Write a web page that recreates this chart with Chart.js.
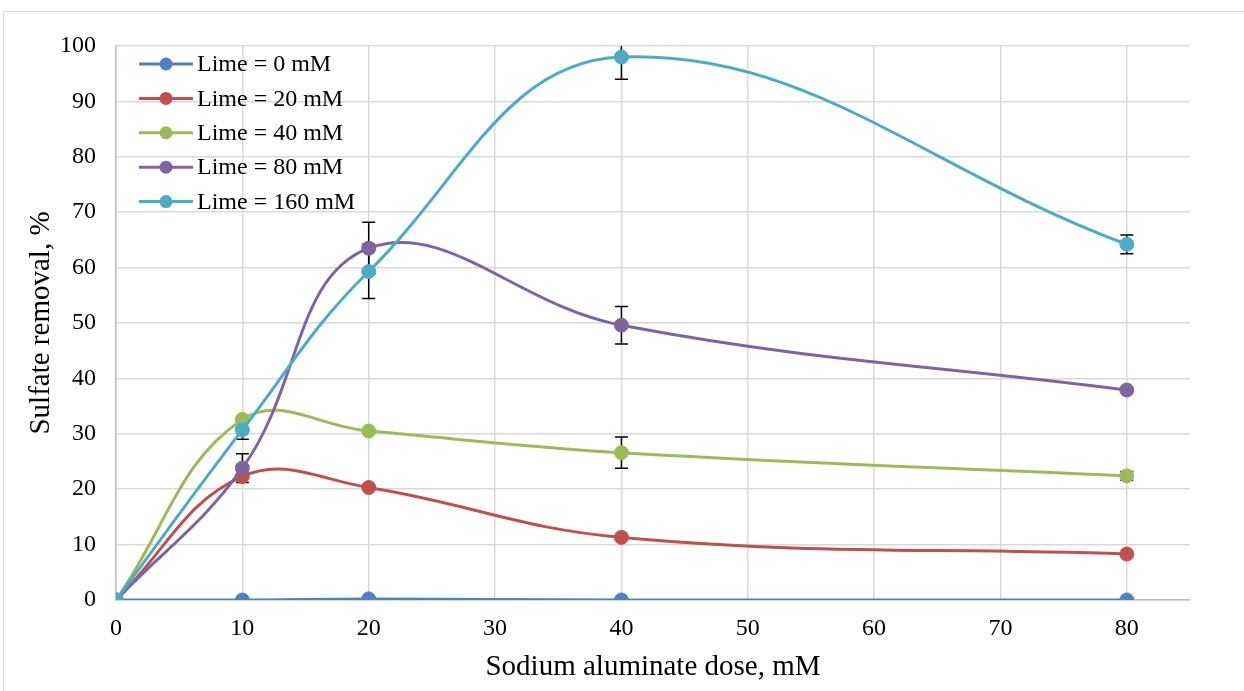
<!DOCTYPE html>
<html>
<head>
<meta charset="utf-8">
<script src="https://cdn.jsdelivr.net/npm/chart.js@4.4.1/dist/chart.umd.min.js"></script>
<style>
  body { margin: 0; background: #fff; }
  #frame { position: absolute; left: 3px; top: 11px; width: 1300px; height: 720px; border: 1px solid #d9d9d9; }
  #wrap { position: absolute; left: 0; top: 0; width: 1244px; height: 691px; }
</style>
</head>
<body>
<div id="frame"></div>
<div id="wrap"><canvas id="sulfateChart"></canvas></div>
<script>
// Sodium aluminate dose (mM) and sulfate removal (%) for each lime dose
const doses = [0, 10, 20, 40, 80];
const seriesNames = ['Lime = 0 mM', 'Lime = 20 mM', 'Lime = 40 mM', 'Lime = 80 mM', 'Lime = 160 mM'];
const lime0 = [0, 0, 0.2, 0, 0];
const lime20 = [0, 22.3, 20.3, 11.3, 8.3];
const lime40 = [0, 32.6, 30.5, 26.6, 22.4];
const lime80 = [0, 23.8, 63.5, 49.6, 37.9];
const lime160 = [0, 30.7, 59.3, 98.0, 64.2];

// Error bar half-widths (null = no bar)
const err0 = [null, null, null, null, null];
const err20 = [null, null, null, null, null];
const err40 = [null, null, null, 2.8, 0.8];
const err80 = [null, 2.6, 4.7, 3.4, null];
const err160 = [null, 1.7, 4.9, 4.0, 1.7];

const xTicks = [0, 10, 20, 30, 40, 50, 60, 70, 80];
const yTicks = [0, 10, 20, 30, 40, 50, 60, 70, 80, 90, 100];

const colors = ['#4f81bd', '#c0504d', '#9bbb59', '#8064a2', '#4bacc6'];
const values = [lime0, lime20, lime40, lime80, lime160];
const errors = [err0, err20, err40, err80, err160];

const serif = '"Liberation Serif", "Times New Roman", serif';

const datasets = values.map((vals, i) => ({
    label: seriesNames[i],
    data: doses.map((d, j) => ({ x: d, y: vals[j] })),
    errors: errors[i],
    borderColor: colors[i],
    backgroundColor: colors[i],
    pointBackgroundColor: colors[i],
    pointBorderColor: colors[i],
    pointRadius: 7,
    pointBorderWidth: 1,
    borderWidth: 3,
    tension: 0.4,
    order: 4 - i
}));

// Vertical error bars with caps, drawn under the markers
const errorBars = {
    id: 'errorBars',
    beforeDatasetsDraw(chart) {
        const { ctx, chartArea, scales: { x, y } } = chart;
        ctx.save();
        ctx.beginPath();
        ctx.rect(chartArea.left, chartArea.top, chartArea.right - chartArea.left, chartArea.bottom - chartArea.top);
        ctx.clip();
        ctx.strokeStyle = '#000';
        ctx.lineWidth = 1.5;
        chart.data.datasets.forEach(ds => {
            ds.data.forEach((p, j) => {
                const e = ds.errors[j];
                if (e == null) return;
                const px = x.getPixelForValue(p.x);
                const top = y.getPixelForValue(p.y + e);
                const bot = y.getPixelForValue(p.y - e);
                ctx.beginPath();
                ctx.moveTo(px, top);
                ctx.lineTo(px, bot);
                ctx.moveTo(px - 6.5, top);
                ctx.lineTo(px + 6.5, top);
                ctx.moveTo(px - 6.5, bot);
                ctx.lineTo(px + 6.5, bot);
                ctx.stroke();
            });
        });
        ctx.restore();
    }
};

// Legend inside the plot, top left
const insideLegend = {
    id: 'insideLegend',
    afterDraw(chart) {
        const { ctx } = chart;
        ctx.save();
        ctx.font = '24px ' + serif;
        ctx.textBaseline = 'middle';
        chart.data.datasets.forEach((ds, i) => {
            const yy = 64 + i * 34.4;
            ctx.strokeStyle = ds.borderColor;
            ctx.lineWidth = 3;
            ctx.beginPath();
            ctx.moveTo(139, yy);
            ctx.lineTo(193, yy);
            ctx.stroke();
            ctx.fillStyle = ds.borderColor;
            ctx.beginPath();
            ctx.arc(166, yy, 6.5, 0, Math.PI * 2);
            ctx.fill();
            ctx.fillStyle = '#000';
            ctx.fillText(ds.label, 197, yy + 1);
        });
        ctx.restore();
    }
};

const ctx = document.getElementById('sulfateChart').getContext('2d');
const sulfateChart = new Chart(ctx, {
    type: 'line',
    data: { datasets },
    plugins: [errorBars, insideLegend],
    options: {
        responsive: true,
        maintainAspectRatio: false,
        animation: false,
        layout: { padding: { top: 46, right: 54, left: 0, bottom: 0 } },
        scales: {
            x: {
                type: 'linear',
                min: 0,
                max: 85,
                afterBuildTicks: s => { s.ticks = xTicks.map(v => ({ value: v })); },
                afterFit: s => { s.height = 91; },
                ticks: { padding: 14, color: '#000', font: { family: serif, size: 24 } },
                grid: { color: '#d9d9d9', lineWidth: 1.5, drawTicks: false },
                border: { display: true, color: '#bfbfbf', width: 1.5 },
                title: {
                    display: true,
                    text: 'Sodium aluminate dose, mM',
                    color: '#000',
                    font: { family: serif, size: 29 },
                    padding: { bottom: 6 }
                }
            },
            y: {
                min: 0,
                max: 100,
                afterBuildTicks: s => { s.ticks = yTicks.map(v => ({ value: v })); },
                afterFit: s => { s.width = 116; },
                ticks: { padding: 20, color: '#000', font: { family: serif, size: 24 } },
                grid: { color: '#d9d9d9', lineWidth: 1.5, drawTicks: false },
                border: { display: true, color: '#bfbfbf', width: 1.5 },
                title: {
                    display: true,
                    text: 'Sulfate removal, %',
                    color: '#000',
                    font: { family: serif, size: 29 },
                    padding: { top: 24 }
                }
            }
        },
        plugins: {
            legend: { display: false },
            tooltip: { enabled: false }
        }
    }
});
</script>
</body>
</html>
